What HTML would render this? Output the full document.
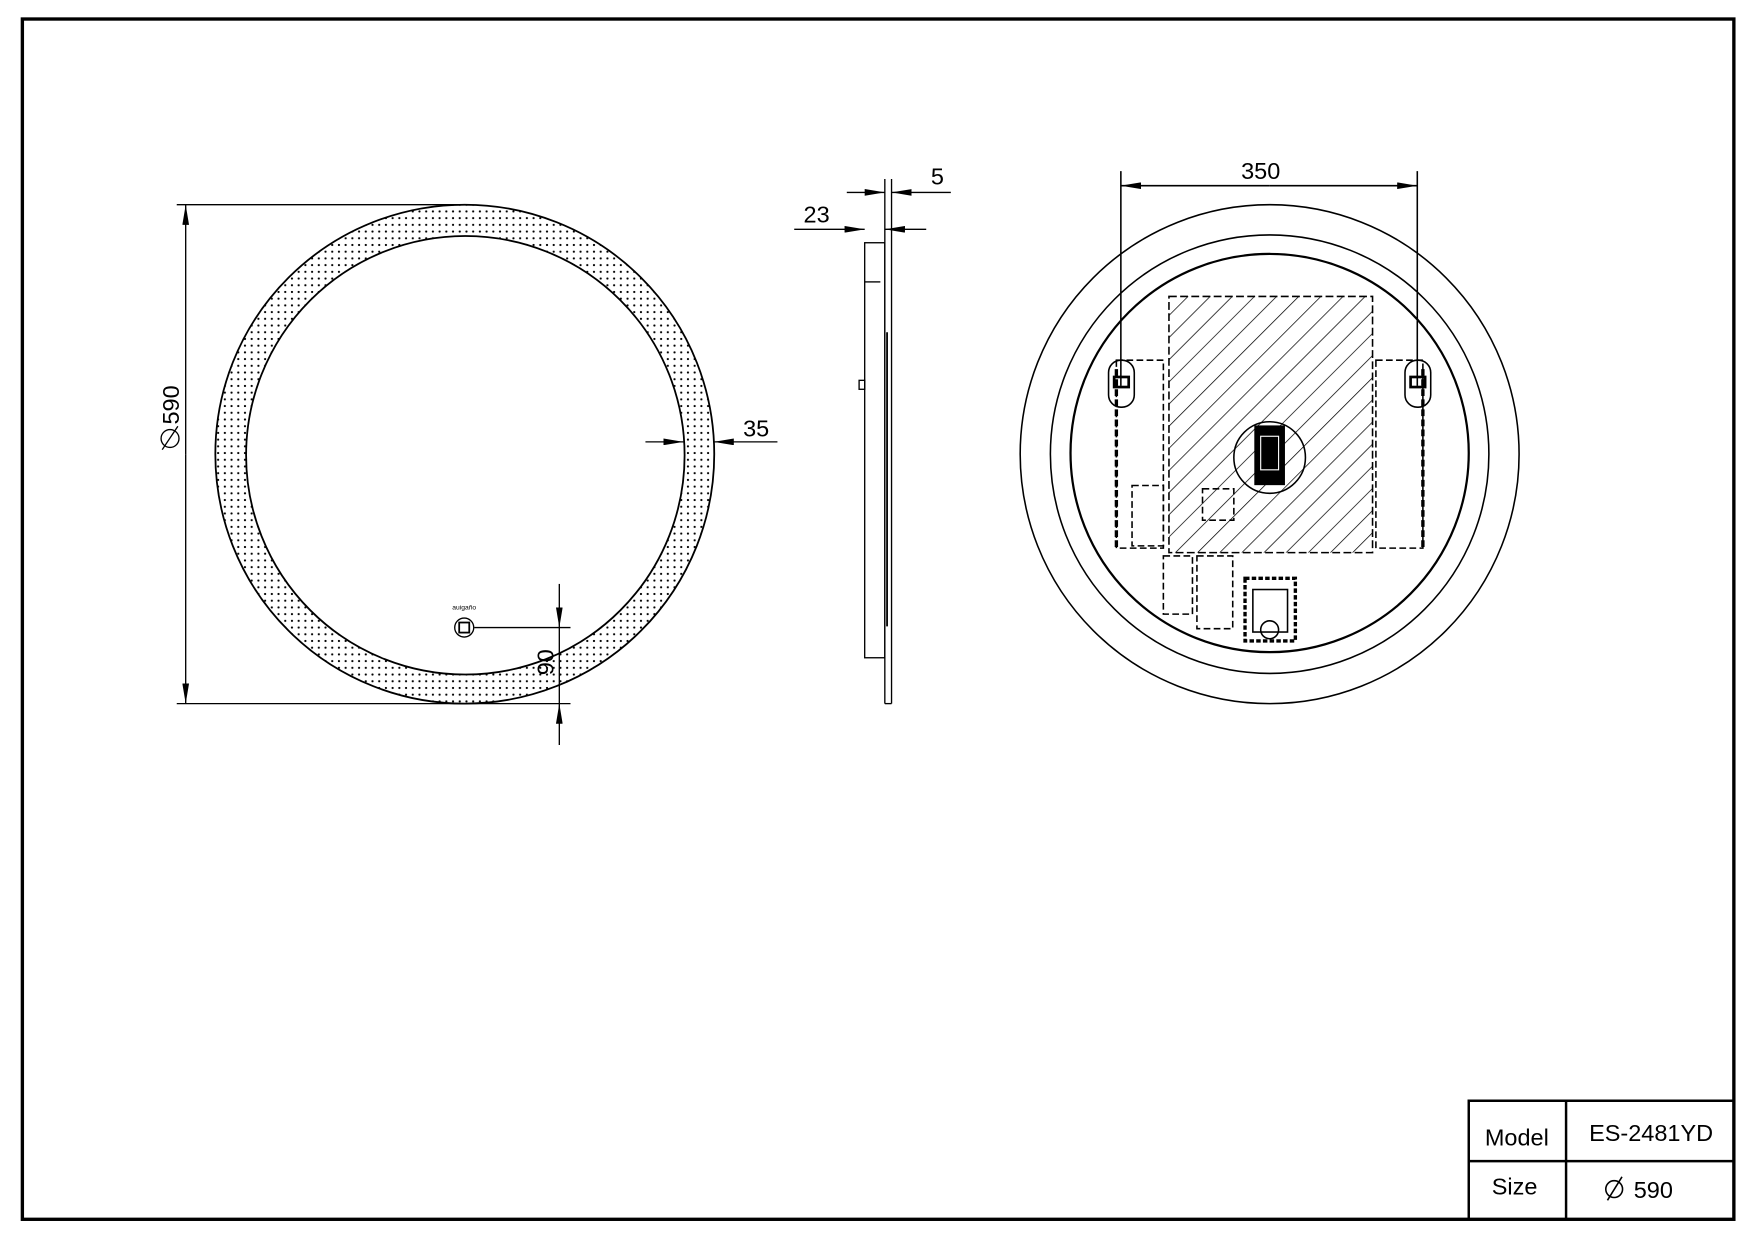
<!DOCTYPE html>
<html><head><meta charset="utf-8"><style>html,body{margin:0;padding:0;background:#fff}svg{display:block}</style></head>
<body>
<svg width="1754" height="1240" viewBox="0 0 1568 1108.5" xmlns="http://www.w3.org/2000/svg" font-family="Liberation Sans, Arial, sans-serif">
<defs>
<pattern id="dots" width="6" height="6" patternUnits="userSpaceOnUse"><circle cx="3" cy="3" r="1" fill="#000"/></pattern>
<pattern id="hatch" width="14" height="14" patternUnits="userSpaceOnUse" patternTransform="rotate(45)"><line x1="0" y1="0" x2="0" y2="14" stroke="#000" stroke-width="1.3"/></pattern>
<marker id="ar" viewBox="0 0 18 6" refX="18" refY="3" markerWidth="18" markerHeight="6" markerUnits="userSpaceOnUse" orient="auto"><path d="M0,0 L18,3 L0,6 Z" fill="#000"/></marker>
</defs>
<rect width="1568" height="1108.5" fill="#fff"/>
<rect x="20" y="17" width="1530" height="1073" fill="none" stroke="#000" stroke-width="3"/>
<!-- title block -->
<g stroke="#000" stroke-width="2.2" fill="none">
<path d="M1313,1090 V984 H1550 M1313,1038 H1550 M1400,984 V1090"/>
</g>
<g font-size="21" fill="#000" text-anchor="middle">
<text x="1356" y="1024">Model</text>
<text x="1476" y="1020">ES-2481YD</text>
<text x="1354" y="1068">Size</text>
<text x="1478" y="1071">590</text>
</g>
<g stroke="#000" stroke-width="1.4" fill="none">
<circle cx="1443" cy="1063" r="7.5"/><line x1="1437" y1="1073" x2="1450" y2="1052"/>
</g>
<!-- LEFT mirror -->
<path d="M415.5,406 m-223,0 a223,223 0 1,0 446,0 a223,223 0 1,0 -446,0 M416,407 m-196,0 a196,196 0 1,1 392,0 a196,196 0 1,1 -392,0" fill="url(#dots)" fill-rule="evenodd" stroke="#000" stroke-width="1.6"/>
<g stroke="#000" stroke-width="1.2" fill="none">
<line x1="158" y1="183" x2="415" y2="183"/>
<line x1="158" y1="629" x2="510" y2="629"/>
<line x1="166" y1="406" x2="166" y2="183" marker-end="url(#ar)"/>
<line x1="166" y1="406" x2="166" y2="629" marker-end="url(#ar)"/>
<line x1="577" y1="395" x2="611" y2="395" marker-end="url(#ar)"/>
<line x1="695" y1="395" x2="638" y2="395" marker-end="url(#ar)"/>
<circle cx="415" cy="561" r="8.5"/>
<rect x="410.5" y="556.5" width="9" height="9" stroke-width="1.6"/>
<line x1="424" y1="561" x2="510" y2="561"/>
<line x1="500" y1="522" x2="500" y2="561" marker-end="url(#ar)"/>
<line x1="500" y1="666" x2="500" y2="629" marker-end="url(#ar)"/>
<line x1="500" y1="561" x2="500" y2="629"/>
<circle cx="152" cy="392" r="8"/><line x1="145" y1="402" x2="159" y2="381"/>
</g>
<text x="415" y="545" font-size="6" text-anchor="middle">auigaño</text>
<text transform="translate(160,362) rotate(-90)" font-size="21" text-anchor="middle">590</text>
<text x="676" y="390" font-size="21" text-anchor="middle">35</text>
<text transform="translate(495,592) rotate(-90)" font-size="21" text-anchor="middle">90</text>
<!-- SIDE view -->
<g stroke="#000" stroke-width="1.2" fill="none">
<line x1="791" y1="160" x2="791" y2="629"/>
<line x1="797" y1="160" x2="797" y2="629"/>
<line x1="791" y1="629" x2="797" y2="629"/>
<rect x="773" y="217" width="18" height="371"/>
<line x1="773" y1="252" x2="787" y2="252"/>
<rect x="768" y="340" width="5" height="8"/>
<line x1="793" y1="297" x2="793" y2="560" stroke-width="1.6"/>
<line x1="757" y1="172" x2="791" y2="172" marker-end="url(#ar)"/>
<line x1="850" y1="172" x2="797" y2="172" marker-end="url(#ar)"/>
<line x1="710" y1="205" x2="773" y2="205" marker-end="url(#ar)"/>
<line x1="828" y1="205" x2="791" y2="205" marker-end="url(#ar)"/>
</g>
<text x="838" y="165" font-size="21" text-anchor="middle">5</text>
<text x="730" y="199" font-size="21" text-anchor="middle">23</text>
<!-- RIGHT back view -->
<g stroke="#000" stroke-width="1.4" fill="none">
<circle cx="1135" cy="406" r="223"/>
<circle cx="1135" cy="406" r="196"/>
<circle cx="1135" cy="405" r="178" stroke-width="2"/>
<rect x="1045" y="265" width="182" height="229" fill="url(#hatch)" stroke-dasharray="7,3"/>
<circle cx="1135" cy="409" r="32"/>
<rect x="1122" y="381" width="26" height="52" fill="#000"/>
<rect x="1127" y="390" width="16" height="30" stroke="#fff" stroke-width="1"/>
<g stroke-dasharray="6,3">
<rect x="998" y="322" width="42" height="168"/>
<rect x="1230" y="322" width="42" height="168"/>
<rect x="1012" y="434" width="28" height="54"/>
<rect x="1075" y="437" width="28" height="28"/>
<rect x="1040" y="497" width="26" height="52"/>
<rect x="1070" y="497" width="32" height="65"/>
</g>
<rect x="1113" y="517" width="45" height="56" stroke-width="3" stroke-dasharray="4,2"/>
<rect x="1120" y="527" width="31" height="38"/>
<circle cx="1135" cy="563" r="8"/>
<line x1="998" y1="330" x2="998" y2="490" stroke-width="3" stroke-dasharray="6,3"/>
<line x1="1272" y1="330" x2="1272" y2="490" stroke-width="3" stroke-dasharray="6,3"/>
<rect x="991" y="322" width="23" height="42" rx="11"/>
<rect x="1256" y="322" width="23" height="42" rx="11"/>
<rect x="996" y="337" width="13" height="9" stroke-width="2.4"/>
<rect x="1261" y="337" width="13" height="9" stroke-width="2.4"/>
<line x1="1002" y1="153" x2="1002" y2="345"/>
<line x1="1267" y1="153" x2="1267" y2="345"/>
<line x1="1135" y1="166" x2="1002" y2="166" marker-end="url(#ar)"/>
<line x1="1135" y1="166" x2="1267" y2="166" marker-end="url(#ar)"/>
</g>
<text x="1127" y="160" font-size="21" text-anchor="middle">350</text>
</svg>
</body></html>
